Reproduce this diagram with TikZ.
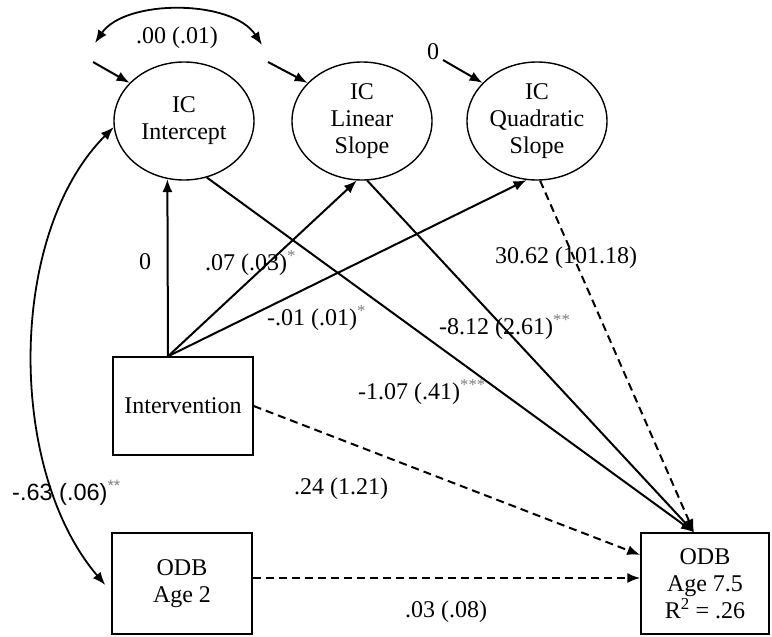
\documentclass[tikz,border=0pt]{standalone}
\usepackage{fontspec}
\setmainfont{Liberation Serif}
\newfontfamily\labsans{Liberation Sans}
\usetikzlibrary{arrows.meta,shapes.geometric,calc}
\newcommand\sigstar[1]{\textsuperscript{\textcolor{gray}{#1}}}
\begin{document}
\begin{tikzpicture}[x=1pt,y=-1pt,
  every node/.style={font=\fontsize{24}{27}\selectfont},
  latent/.style={ellipse,draw,line width=1.4pt,minimum width=140pt,minimum height=118pt,align=center,inner sep=0pt},
  obs/.style={rectangle,draw,line width=1.4pt,align=center,inner sep=0pt},
  arr/.style={line width=2pt,-{Latex[length=13pt,width=10pt]}},
  darr/.style={arr,dash pattern=on 8pt off 5pt},
  both/.style={line width=1.8pt,{Latex[length=13pt,width=10pt]}-{Latex[length=13pt,width=10pt]}},
  lbl/.style={inner sep=0pt}]
\useasboundingbox (0,0) rectangle (772,637);
% latent variables
\node[latent] (int) at (184,121) {IC\\Intercept};
\node[latent] (lin) at (362,121) {IC\\Linear\\Slope};
\node[latent] (quad) at (537,121) {IC\\Quadratic\\Slope};
% observed variables
\node[obs,minimum width=140pt,minimum height=98pt] (inv) at (183,406) {Intervention};
\node[obs,minimum width=140pt,minimum height=101pt] (odb2) at (182,583.5) {ODB\\Age 2};
\node[obs,minimum width=128pt,minimum height=101pt] (odb75) at (705,583.5) {ODB\\Age 7.5\\R\textsuperscript{2} = .26};
% helper coordinates
\coordinate (src) at ($(inv.north)+(-15,0)$);
\coordinate (tgt) at ($(odb75.north)+(-11,0)$);
\coordinate (e1) at ($(odb75.west)+(0,-28.5)$);
\coordinate (s2) at ($(odb2.east)+(0,-5.5)$);
\coordinate (e2) at ($(odb75.west)+(0,-5.5)$);
\coordinate (ra) at (93,62);
\coordinate (rb) at (268,62);
\coordinate (rc) at (443,60);
\coordinate (ta) at (95,43);
\coordinate (tb) at (262,45);
% paths
\draw[arr] (src) -- (int.254);
\draw[arr] (src) -- (lin.265);
\draw[arr] (src) -- (quad.260);
\draw[arr] (int.292) -- (tgt);
\draw[arr] (lin.275) -- (tgt);
\draw[darr] (quad.273) -- (tgt);
\draw[darr] (inv.east) -- (e1);
\draw[darr] (s2) -- (e2);
% residual arrows
\draw[arr] (ra) -- (int.145);
\draw[arr] (rb) -- (lin.145);
\draw[arr] (rc) -- (quad.145);
% covariances
\draw[both] (ta) .. controls (125,-1) and (232,-1) .. (tb);
\draw[both] (int.185) .. controls (7,234) and (7,470) .. ($(odb2.west)+(-6,1.5)$);
% labels
\node[lbl] (l00) at (177,38) {.00 (.01)};
\node[lbl] (l0q) at (433,52) {0};
\node[lbl] (l0) at (145,262) {0};
\node[lbl,anchor=west] (l07) at (205,263) {.07 (.03)\sigstar{*}};
\node[lbl,anchor=west] (l01) at (267,318) {-.01 (.01)\sigstar{*}};
\node[lbl,anchor=west] (l812) at (439,327) {-8.12 (2.61)\sigstar{**}};
\node[lbl,anchor=west] (l107) at (358,392) {-1.07 (.41)\sigstar{***}};
\node[lbl] (l3062) at (566,258) {30.62 (101.18)};
\node[lbl] (l24) at (341,489) {.24 (1.21)};
\node[lbl] (l03) at (446,612) {.03 (.08)};
\node[lbl,anchor=west,font=\labsans\fontsize{23.5}{27}\selectfont] (l63) at (12,493) {-.63 (.06)\sigstar{**}};
\end{tikzpicture}
\end{document}
